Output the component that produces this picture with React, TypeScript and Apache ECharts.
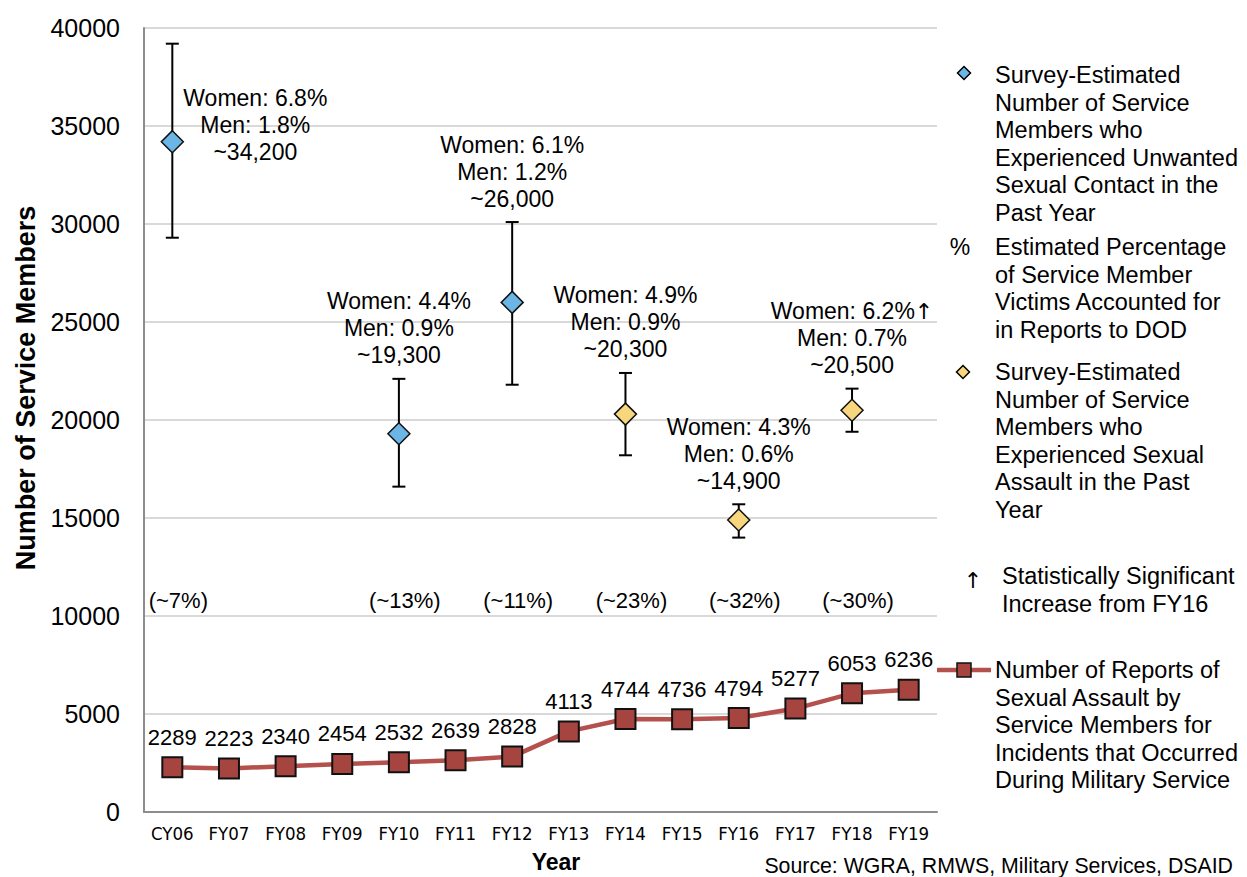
import React, { useEffect, useRef } from 'react';
import * as echarts from 'echarts';

const categories = ['CY06', 'FY07', 'FY08', 'FY09', 'FY10', 'FY11', 'FY12', 'FY13', 'FY14', 'FY15', 'FY16', 'FY17', 'FY18', 'FY19'];
const reports = [2289, 2223, 2340, 2454, 2532, 2639, 2828, 4113, 4744, 4736, 4794, 5277, 6053, 6236];

const surveyYears = ['CY06', 'FY10', 'FY12', 'FY14', 'FY16', 'FY18'];
const surveyType = ['contact', 'contact', 'contact', 'assault', 'assault', 'assault'];
const surveyEst = [34200, 19300, 26000, 20300, 14900, 20500];
const surveyLow = [29300, 16600, 21800, 18200, 14000, 19400];
const surveyHigh = [39200, 22100, 30100, 22400, 15700, 21600];
const womenPct = ['6.8%', '4.4%', '6.1%', '4.9%', '4.3%', '6.2%↑'];
const menPct = ['1.8%', '0.9%', '1.2%', '0.9%', '0.6%', '0.7%'];
const reportPct = ['~7%', '~13%', '~11%', '~23%', '~32%', '~30%'];

const yTicks = { min: 0, max: 40000, interval: 5000 };
const pctLabelLevel = 10700;

const FONT = "'Liberation Sans', Arial, sans-serif";
const NARROW = "'Liberation Sans Narrow', 'Arial Narrow', 'DejaVu Sans Condensed', sans-serif";
const ARROW_FONT = "'DejaVu Sans', sans-serif";
const BLUE = '#6cb6e6';
const YELLOW = '#f8d67e';
const LINE = '#b5514c';
const SQUARE = '#a6443f';

function measure(text: string, font: string) {
  const c = document.createElement('canvas').getContext('2d')!;
  c.font = font;
  return c.measureText(text).width;
}

export default function App() {
  const ref = useRef<HTMLDivElement>(null);
  useEffect(() => {
    document.body.style.margin = '0';
    const chart = echarts.init(ref.current!, null, { renderer: 'svg' });
    const gridTop = 28;

    const errData = surveyYears.map((y, i) => [categories.indexOf(y), surveyLow[i], surveyHigh[i], surveyEst[i], i]);

    const rich = { a: { fontFamily: ARROW_FONT, fontSize: 22, fill: '#000', color: '#000', lineHeight: 27 } };

    const renderErr = (params: any, api: any) => {
      const x = api.value(0);
      const i = api.value(4);
      const lo = api.coord([x, api.value(1)]);
      const hi = api.coord([x, api.value(2)]);
      const pt = api.coord([x, api.value(3)]);
      const pc = api.coord([x, pctLabelLevel]);
      const cap = 6.5;
      const women = womenPct[i].replace('↑', '{a|↑}');
      const labelText = `Women: ${women}\nMen: ${menPct[i]}\n~${surveyEst[i].toLocaleString('en-US')}`;
      const lh = 27;
      const textH = lh * 3;
      const gap = 10;
      const fitsAbove = hi[1] - gap - textH > gridTop;
      let label: any;
      if (fitsAbove) {
        label = {
          type: 'text',
          style: {
            text: labelText, x: hi[0], y: hi[1] - gap, align: 'center', verticalAlign: 'bottom',
            fontSize: 23, fontFamily: FONT, lineHeight: lh, fill: '#000', rich,
          },
        };
      } else {
        const w = measure(`Women: ${womenPct[i]}`, `23px ${FONT}`);
        label = {
          type: 'text',
          style: {
            text: labelText, x: pt[0] + 11 + w / 2, y: pt[1] - 17, align: 'center', verticalAlign: 'middle',
            fontSize: 23, fontFamily: FONT, lineHeight: lh, fill: '#000', rich,
          },
        };
      }
      const stroke = { stroke: '#000', lineWidth: 2 };
      return {
        type: 'group',
        children: [
          { type: 'line', shape: { x1: hi[0], y1: hi[1], x2: lo[0], y2: lo[1] }, style: stroke },
          { type: 'line', shape: { x1: hi[0] - cap, y1: hi[1], x2: hi[0] + cap, y2: hi[1] }, style: stroke },
          { type: 'line', shape: { x1: lo[0] - cap, y1: lo[1], x2: lo[0] + cap, y2: lo[1] }, style: stroke },
          label,
          {
            type: 'text',
            style: {
              text: `(${reportPct[i]})`, x: pc[0] + 6, y: pc[1] - 2, align: 'center', verticalAlign: 'middle',
              fontSize: 22, fontFamily: FONT, fill: '#000',
            },
          },
        ],
      };
    };

    const scatterData = (type: string) =>
      surveyYears.map((y, i) => (surveyType[i] === type ? [y, surveyEst[i]] : null)).filter(Boolean);

    const legendText = (x: number, y: number, text: string) => ({
      type: 'text',
      x, y: y - 13.75,
      style: { text, fontSize: 23.5, fontFamily: FONT, lineHeight: 27.5, fill: '#000', verticalAlign: 'top' },
    });
    const diamond = (cx: number, cy: number, color: string) => ({
      type: 'polygon',
      shape: { points: [[cx, cy - 6.5], [cx + 6.5, cy], [cx, cy + 6.5], [cx - 6.5, cy]] },
      style: { fill: color, stroke: '#000', lineWidth: 1.5 },
    });

    const option: any = {
      animation: false,
      grid: { left: 144, right: 310, top: gridTop, bottom: 65 },
      xAxis: {
        type: 'category',
        data: categories,
        boundaryGap: true,
        axisLine: { show: true, lineStyle: { color: '#8c8c8c', width: 2 } },
        axisTick: { show: false },
        axisLabel: { color: '#000', fontSize: 18.5, fontFamily: NARROW, margin: 12, interval: 0 },
      },
      yAxis: {
        type: 'value',
        min: yTicks.min, max: yTicks.max, interval: yTicks.interval,
        axisLine: { show: true, lineStyle: { color: '#8c8c8c', width: 2 } },
        axisTick: { show: false },
        splitLine: { lineStyle: { color: '#d9d9d9', width: 2 } },
        axisLabel: { color: '#000', fontSize: 25, fontFamily: FONT, margin: 24, formatter: (v: number) => String(v) },
      },
      series: [
        {
          type: 'line',
          data: reports,
          z: 2,
          symbol: 'rect',
          symbolSize: 20,
          lineStyle: { color: LINE, width: 4.5 },
          itemStyle: { color: SQUARE, borderColor: '#111', borderWidth: 2 },
          label: { show: true, position: 'top', distance: 8, fontSize: 22, fontFamily: FONT, color: '#000' },
        },
        {
          type: 'custom',
          z: 3,
          data: errData,
          encode: { x: 0, y: [1, 2] },
          renderItem: renderErr,
        },
        {
          type: 'scatter',
          z: 4,
          data: scatterData('contact'),
          symbol: 'diamond',
          symbolSize: [22, 22],
          itemStyle: { color: BLUE, borderColor: '#111', borderWidth: 1.5, opacity: 1 },
        },
        {
          type: 'scatter',
          z: 4,
          data: scatterData('assault'),
          symbol: 'diamond',
          symbolSize: [22, 22],
          itemStyle: { color: YELLOW, borderColor: '#111', borderWidth: 1.5, opacity: 1 },
        },
      ],
      graphic: [
        {
          type: 'text', x: 26, y: 388, rotation: Math.PI / 2,
          style: { text: 'Number of Service Members', fontSize: 27, fontWeight: 'bold', fontFamily: FONT, fill: '#000', align: 'center', verticalAlign: 'middle' },
        },
        {
          type: 'text', x: 556, y: 862,
          style: { text: 'Year', fontSize: 23, fontWeight: 'bold', fontFamily: FONT, fill: '#000', align: 'center', verticalAlign: 'middle' },
        },
        {
          type: 'text', x: 1233, y: 866,
          style: { text: 'Source: WGRA, RMWS, Military Services, DSAID', fontSize: 21.3, fontFamily: FONT, fill: '#000', align: 'right', verticalAlign: 'middle' },
        },
        diamond(964, 73, BLUE),
        legendText(995, 75, 'Survey-Estimated\nNumber of Service\nMembers who\nExperienced Unwanted\nSexual Contact in the\nPast Year'),
        {
          type: 'text', x: 960, y: 247,
          style: { text: '%', fontSize: 23, fontFamily: FONT, fill: '#000', align: 'center', verticalAlign: 'middle' },
        },
        legendText(995, 247, 'Estimated Percentage\nof Service Member\nVictims Accounted for\nin Reports to DOD'),
        diamond(963, 372, YELLOW),
        legendText(995, 372, 'Survey-Estimated\nNumber of Service\nMembers who\nExperienced Sexual\nAssault in the Past\nYear'),
        {
          type: 'text', x: 973, y: 580,
          style: { text: '↑', fontSize: 22, fontFamily: ARROW_FONT, fill: '#000', align: 'center', verticalAlign: 'middle' },
        },
        legendText(1002, 576, 'Statistically Significant\nIncrease from FY16'),
        {
          type: 'line', shape: { x1: 937, y1: 670, x2: 991, y2: 670 },
          style: { stroke: LINE, lineWidth: 4.5 },
        },
        {
          type: 'rect', shape: { x: 957, y: 663, width: 14, height: 14 },
          style: { fill: SQUARE, stroke: '#111', lineWidth: 1.5 },
        },
        legendText(995, 670, 'Number of Reports of\nSexual Assault by\nService Members for\nIncidents that Occurred\nDuring Military Service'),
      ],
    };
    chart.setOption(option);
    return () => chart.dispose();
  }, []);
  return <div ref={ref} style={{ width: 1247, height: 877, overflow: 'hidden' }} />;
}
